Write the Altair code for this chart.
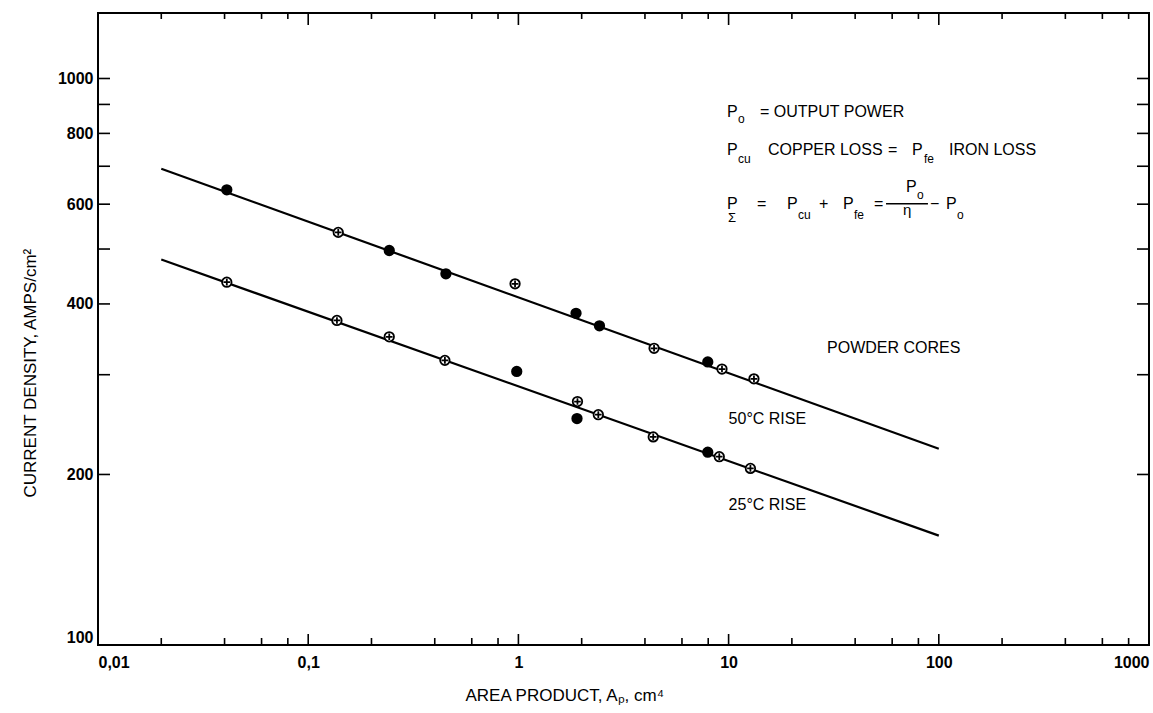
import altair as alt
import pandas as pd

FONT = "Liberation Sans"

# Powder cores, 50 degC temperature rise: area product (cm^4) vs current density (A/cm^2)
rise50_ap = [0.041, 0.139, 0.243, 0.452, 0.964, 1.88, 2.43, 4.42, 7.96, 9.30, 13.2]
rise50_j = [636, 535, 497, 452, 434, 385, 366, 334, 316, 307, 295]
rise50_kind = ["solid", "crossed", "solid", "solid", "crossed", "solid", "solid",
               "crossed", "solid", "crossed", "crossed"]

# Powder cores, 25 degC temperature rise
rise25_ap = [0.041, 0.137, 0.243, 0.447, 0.982, 1.91, 1.90, 2.40, 4.38, 7.96, 9.03, 12.7]
rise25_j = [437, 374, 350, 318, 304, 269, 251, 255, 233, 219, 215, 205]
rise25_kind = ["crossed", "crossed", "crossed", "crossed", "solid", "crossed", "solid",
               "crossed", "crossed", "solid", "crossed", "crossed"]

# Straight-line fits on log-log paper (end points)
fit_ap = [0.02, 100]
fit50_j = [693, 222]
fit25_j = [479, 156]

# Axis ticks
x_label_values = [0.01, 0.1, 1, 10, 100, 1000]
x_minor_values = [m * d for d in [0.01, 0.1, 1, 10, 100] for m in (2, 4, 6, 8)]
y_label_values = [100, 200, 400, 600, 800, 1000]
y_tick_values = [100, 200, 300, 400, 500, 600, 700, 800, 900, 1000]

# Legend / formula text pieces: (text, Ap, J, font size)
notes = [
    ("P", 9.83, 855, 16), ("o", 11.08, 835, 12), ("= OUTPUT POWER", 14.11, 855, 16),
    ("P", 9.83, 733, 16), ("cu", 11.08, 710, 12), ("COPPER LOSS", 15.39, 733, 16),
    ("=", 57.3, 733, 16), ("P", 74.6, 733, 16), ("fe", 85.0, 710, 12),
    ("IRON LOSS", 111.8, 733, 16),
    ("P", 9.83, 589, 16), ("Σ", 9.93, 557, 13), ("=", 13.65, 589, 16),
    ("P", 18.96, 589, 16), ("cu", 21.4, 566, 12), ("+", 26.9, 589, 16),
    ("P", 35.0, 589, 16), ("fe", 39.5, 566, 12), ("=", 49.2, 589, 16),
    ("P", 69.8, 631, 16), ("o", 78.8, 613, 12), ("η", 67.5, 574, 15),
    ("−", 90.8, 589, 16), ("P", 108.2, 589, 16), ("o", 122.1, 566, 12),
    ("POWDER CORES", 29.4, 328, 16),
    ("50°C RISE", 10.0, 246, 16),
    ("25°C RISE", 10.0, 173, 16),
]
fraction_bar = {"x1": [56.1], "x2": [88.8], "y": [601]}

points = pd.concat([
    pd.DataFrame({"Ap": rise50_ap, "J": rise50_j, "kind": rise50_kind, "series": "50°C"}),
    pd.DataFrame({"Ap": rise25_ap, "J": rise25_j, "kind": rise25_kind, "series": "25°C"}),
])
fits = pd.concat([
    pd.DataFrame({"Ap": fit_ap, "J": fit50_j, "series": "50°C"}),
    pd.DataFrame({"Ap": fit_ap, "J": fit25_j, "series": "25°C"}),
])
notes_df = pd.DataFrame(notes, columns=["text", "Ap", "J", "fs"])

W, H = 1051, 632
x_scale = alt.Scale(type="log", domain=[0.01, 1000], nice=False)
y_scale = alt.Scale(type="log", domain=[100, 1305], nice=False)

x_axis = alt.Axis(
    title="AREA PRODUCT, Aₚ, cm⁴", values=x_label_values, format="~g",
    labelExpr="replace(datum.label, '.', ',')",
    ticks=False, domain=False, grid=False, labelFlush=True,
    labelFont=FONT, labelFontSize=16, labelFontWeight="bold", labelColor="black",
    labelPadding=9,
    titleFont=FONT, titleFontSize=17, titleFontWeight="normal", titleColor="black",
    titleAlign="left", titleBaseline="alphabetic", titleX=367, titleY=55,
)
y_axis = alt.Axis(
    title="CURRENT DENSITY, AMPS/cm²", values=y_label_values, format="d",
    ticks=False, domain=False, grid=False, labelFlush=True,
    labelFont=FONT, labelFontSize=16, labelFontWeight="bold", labelColor="black",
    labelPadding=5,
    titleFont=FONT, titleFontSize=17, titleFontWeight="normal", titleColor="black",
    titleAngle=270, titleAlign="left", titleBaseline="alphabetic",
    titleX=-63, titleY=484,
)


def X(field):
    return alt.X(f"{field}:Q", scale=x_scale, axis=x_axis)


def Y(field):
    return alt.Y(f"{field}:Q", scale=y_scale, axis=y_axis)


CROSSED = "M-1,0A1,1,0,1,1,1,0A1,1,0,1,1,-1,0Z M-0.7,0L0.7,0 M0,-0.7L0,0.7"

lines = alt.Chart(fits).mark_line(color="black", strokeWidth=2.2).encode(
    x=X("Ap"), y=Y("J"), detail=alt.Detail("series:N")
)

markers = alt.Chart(points).mark_point(
    size=90, stroke="black", strokeWidth=1.8, opacity=1, fillOpacity=1
).encode(
    x=X("Ap"), y=Y("J"),
    shape=alt.Shape("kind:N", scale=alt.Scale(domain=["solid", "crossed"],
                                              range=["circle", CROSSED]), legend=None),
    fill=alt.Fill("kind:N", scale=alt.Scale(domain=["solid", "crossed"],
                                            range=["black", "white"]), legend=None),
)

texts = alt.Chart(notes_df).mark_text(
    align="left", baseline="alphabetic", font=FONT, color="black"
).encode(
    x=X("Ap"), y=Y("J"), text="text:N", size=alt.Size("fs:Q", scale=None)
)

bar = alt.Chart(pd.DataFrame(fraction_bar)).mark_rule(color="black", strokeWidth=1.3).encode(
    x=X("x1"), x2="x2", y=Y("y")
)

x_major = pd.DataFrame({"v": x_label_values})
x_minor = pd.DataFrame({"v": x_minor_values})
y_ticks = pd.DataFrame({"v": y_tick_values})
tick_style = dict(color="black", strokeWidth=1.6)

tick_layers = [
    alt.Chart(x_major).mark_rule(**tick_style).encode(x=X("v"), y=alt.value(H), y2=alt.value(H - 11)),
    alt.Chart(x_minor).mark_rule(**tick_style).encode(x=X("v"), y=alt.value(H), y2=alt.value(H - 7)),
    alt.Chart(x_major).mark_rule(**tick_style).encode(x=X("v"), y=alt.value(0), y2=alt.value(12)),
    alt.Chart(x_minor).mark_rule(**tick_style).encode(x=X("v"), y=alt.value(0), y2=alt.value(6)),
    alt.Chart(y_ticks).mark_rule(**tick_style).encode(y=Y("v"), x=alt.value(0), x2=alt.value(12)),
    alt.Chart(y_ticks).mark_rule(**tick_style).encode(y=Y("v"), x=alt.value(W), x2=alt.value(W - 12)),
]

chart = alt.layer(
    *tick_layers, lines, markers, bar, texts
).properties(
    width=W, height=H,
    autosize=alt.AutoSizeParams(type="none"),
    padding={"left": 98, "top": 13, "right": 4, "bottom": 68},
    background="white",
).configure_view(stroke="black", strokeWidth=2)

chart.save("out.html", embed_options={"renderer": "svg", "actions": False})
